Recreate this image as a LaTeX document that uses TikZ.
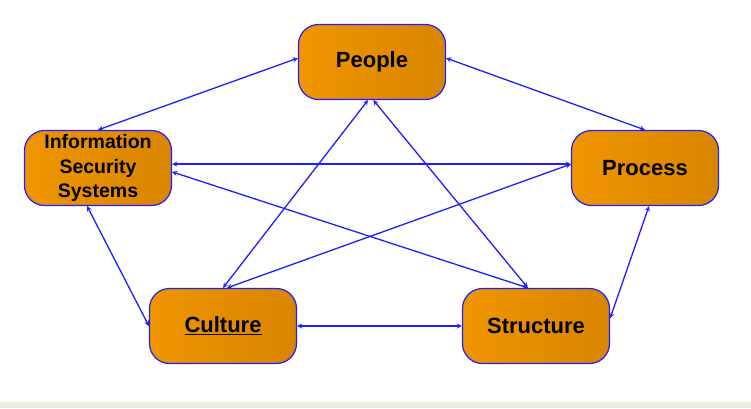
\documentclass[tikz,border=0pt]{standalone}
\usepackage{fontspec}
\setmainfont{Liberation Sans}
\definecolor{boxleft}{RGB}{240,149,0}
\definecolor{boxright}{RGB}{216,133,0}
\definecolor{linkblue}{RGB}{30,30,255}
\definecolor{strip}{RGB}{238,236,225}
\begin{document}
\begin{tikzpicture}
[x=1pt,y=-1pt,>=stealth,
 box/.style={draw=linkblue,line width=1.2pt,rounded corners=20pt,left color=boxleft,right color=boxright,
  minimum width=147pt,minimum height=75pt,inner sep=0pt,font=\fontsize{22}{26}\selectfont\bfseries,align=center},
 link/.style={<->,draw=linkblue,line width=1.3pt}]

% the frame
\useasboundingbox (0,0) rectangle (751,408);
\fill[strip] (0,402) rectangle (751,408);

% the boxes
\node[box] (people) at (372,62) {\raisebox{-3pt}{People}};
\node[box,font=\fontsize{19.5}{24.5}\selectfont\bfseries] (info) at (98,168) {Information\\Security\\Systems};
\node[box] (process) at (645,168) {\raisebox{-2pt}{Process}};
\node[box] (culture) at (223,326) {\raisebox{-2pt}{\underline{Culture}}};
\node[box] (structure) at (536,326) {\raisebox{-2pt}{Structure}};

% the outer ring
\draw[link] (people.177) -- (info.north);
\draw[link] (people.3) -- (process.north);
\draw[link] (info.254) -- (culture.west);
\draw[link] (process.276) -- (structure.6);
\draw[link] (culture.east) -- (structure.west);

% the star
\draw[link] (info.3) -- (process.177);
\draw[link] (people.264) -- (culture.north);
\draw[link] (people.272) -- (structure.102);
\draw[link] (info.357) -- (structure.102);
\draw[link] (process.177) -- (culture.84);

\end{tikzpicture}
\end{document}
